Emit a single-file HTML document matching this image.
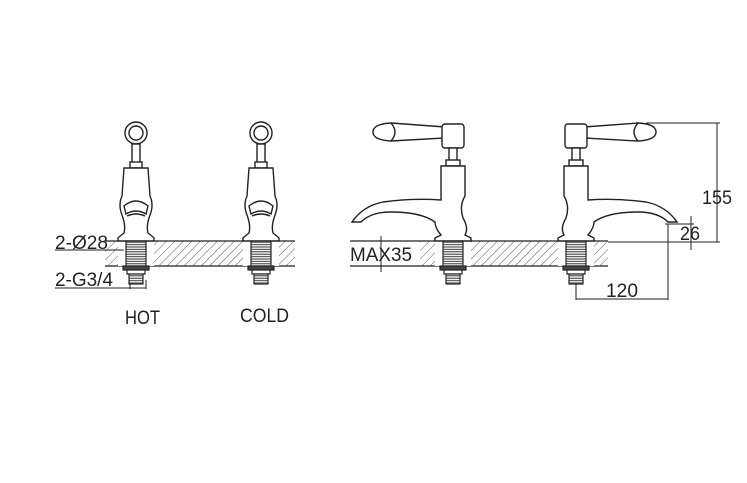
<!DOCTYPE html>
<html><head><meta charset="utf-8"><style>
html,body{margin:0;padding:0;background:#fff;}
svg{display:block}
text{font-family:"Liberation Sans","DejaVu Sans",sans-serif;fill:#222;}
</style></head><body>
<svg width="747" height="483" viewBox="0 0 747 483" xmlns="http://www.w3.org/2000/svg">
<defs>
<pattern id="h" width="6" height="6" patternUnits="userSpaceOnUse" patternTransform="rotate(45)">
<line x1="0" y1="0" x2="0" y2="6" stroke="#333" stroke-width="0.8"/>
</pattern>
<pattern id="th" width="4" height="2.4" patternUnits="userSpaceOnUse">
<rect width="4" height="2.4" fill="#fff"/><line x1="0" y1="1.2" x2="4" y2="1.2" stroke="#333" stroke-width="1"/>
</pattern>
<g id="under" stroke="#222" stroke-width="1.2">
<rect x="-10" y="0" width="20" height="25" fill="url(#th)"/>
<rect x="-13" y="25" width="26" height="4" fill="#444"/>
<rect x="-9" y="29" width="18" height="4" fill="#fff"/>
<rect x="-7" y="33" width="14" height="10" fill="url(#th)"/>
</g>
<g id="front" fill="#fff" stroke="#222" stroke-width="1.4">
<circle cx="0" cy="133" r="11"/><circle cx="0" cy="133" r="7"/>
<rect x="-4" y="144" width="8" height="20"/>
<rect x="-6" y="162" width="12" height="6"/>
<path d="M-12 168 H12 L14 196 Q18 205 14 215 Q10 226 12 233 Q16 236 18 238 V241 H-18 V238 Q-16 236 -12 233 Q-10 226 -14 215 Q-18 205 -14 196 Z"/>
<path d="M-12 206 Q0 196 12 206 L10 214 Q0 208 -10 214 Z"/>
<path d="M-9 216 Q0 212 9 216"/>
</g>
<g id="side" fill="#fff" stroke="#222" stroke-width="1.4">
<path d="M-8 127 L-62 123 Q-80 124 -80 132 Q-80 140 -62 141 L-8 138 Z"/>
<path d="M-62 123 Q-54 132 -62 141" fill="none"/>
<rect x="-11" y="124" width="22" height="24" rx="3"/>
<rect x="-4" y="148" width="8" height="14"/>
<rect x="-7" y="160" width="14" height="6"/>
<path d="M-12 166 H12 L12 196 Q6 206 10 218 Q16 228 12 235 L18 238 V241 H-18 V238 L-12 235 Q-18 228 -18 222 Q-32 212 -62 212 Q-82 212 -92 222 L-101 222 Q-90 206 -70 202 Q-40 198 -12 200 Z"/>
</g>
</defs>

<rect x="105" y="241" width="190" height="25" fill="url(#h)" stroke="none"/>
<line x1="105" y1="241" x2="295" y2="241" stroke="#222" stroke-width="1.2"/>
<line x1="105" y1="266" x2="295" y2="266" stroke="#222" stroke-width="1.2"/>
<rect x="118" y="241" width="36" height="25" fill="#fff"/>
<rect x="243" y="241" width="36" height="25" fill="#fff"/>
<use href="#front" x="136"/>
<use href="#front" x="261"/>
<use href="#under" x="136" y="241"/>
<use href="#under" x="261" y="241"/>

<text x="55" y="249" font-size="19" textLength="53" lengthAdjust="spacingAndGlyphs">2-Ø28</text>
<line x1="55" y1="250" x2="124" y2="250" stroke="#222" stroke-width="1"/>
<text x="55" y="286" font-size="19" textLength="58" lengthAdjust="spacingAndGlyphs">2-G3/4</text>
<line x1="55" y1="288" x2="146" y2="288" stroke="#222" stroke-width="1"/>
<line x1="130" y1="283" x2="130" y2="289" stroke="#222"/>
<line x1="146" y1="280" x2="146" y2="289" stroke="#222"/>
<text x="125" y="324" font-size="19" textLength="35" lengthAdjust="spacingAndGlyphs">HOT</text>
<text x="240" y="322" font-size="19" textLength="49" lengthAdjust="spacingAndGlyphs">COLD</text>

<rect x="420" y="241" width="188" height="25" fill="url(#h)"/>
<line x1="350" y1="241" x2="608" y2="241" stroke="#222" stroke-width="1.2"/>
<line x1="350" y1="266" x2="608" y2="266" stroke="#222" stroke-width="1.2"/>
<rect x="435" y="241" width="36" height="25" fill="#fff"/>
<rect x="558" y="241" width="36" height="25" fill="#fff"/>
<use href="#side" x="453"/>
<g transform="translate(576,0) scale(-1,1)"><use href="#side"/></g>
<use href="#under" x="453" y="241"/>
<use href="#under" x="576" y="241"/>
<line x1="381" y1="236" x2="381" y2="272" stroke="#222" stroke-width="1"/>
<text x="350" y="261" font-size="19" textLength="62" lengthAdjust="spacingAndGlyphs">MAX35</text>

<g stroke="#222" stroke-width="1">
<line x1="646" y1="123" x2="720" y2="123"/>
<line x1="717" y1="123" x2="717" y2="242"/>
<line x1="608" y1="242" x2="720" y2="242"/>
<line x1="691" y1="216" x2="691" y2="250"/>
<line x1="665" y1="224" x2="694" y2="224"/>
<line x1="668" y1="224" x2="668" y2="300"/>
<line x1="576" y1="283" x2="576" y2="300"/>
<line x1="576" y1="299" x2="668" y2="299"/>
</g>
<text x="702" y="204" font-size="19" textLength="30" lengthAdjust="spacingAndGlyphs">155</text>
<text x="680" y="240" font-size="19" textLength="20" lengthAdjust="spacingAndGlyphs">26</text>
<text x="606" y="297" font-size="19" textLength="32" lengthAdjust="spacingAndGlyphs">120</text>
</svg>
</body></html>
